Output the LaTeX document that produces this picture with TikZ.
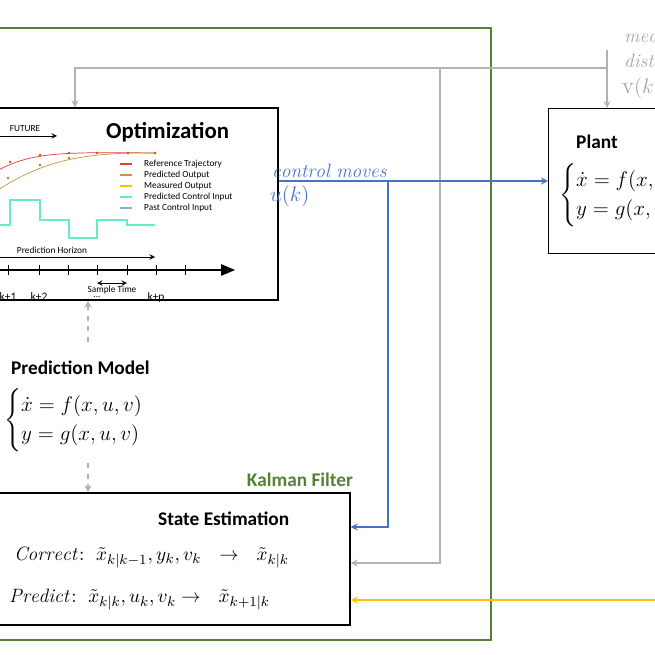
\documentclass[tikz,border=0pt]{standalone}
\usepackage{amsmath}
\usepackage{fontspec}
\newfontfamily\calib{Carlito}
\usetikzlibrary{positioning, arrows}
\definecolor{kalgreen}{RGB}{84,130,53}
\definecolor{ctrlblue}{RGB}{68,114,196}
\definecolor{measgold}{RGB}{255,192,0}
\definecolor{sigcyan}{RGB}{100,235,200}
\definecolor{refred}{RGB}{230,60,60}
\definecolor{predbrown}{RGB}{200,150,60}
\tikzstyle{block} = [rectangle, draw=black, thick, fill=white]
\tikzstyle{title} = [font=\calib\bfseries\fontsize{11}{12}\selectfont, anchor=west]
\tikzstyle{eqn} = [font=\fontsize{12}{14}\selectfont, anchor=west]
\tikzstyle{arrow} = [->,>=stealth]
\tikzstyle{feed} = [arrow, gray!60, thick]
\tikzstyle{tiny} = [font=\calib\fontsize{5.3}{6}\selectfont]

\begin{document}
\begin{tikzpicture}[x=0.02cm, y=-0.02cm]
    \useasboundingbox (0,0) rectangle (655,655);
    \draw[kalgreen, thick] (-5,28) rectangle (491,640);

    % blocks
    \node (opt) [block, minimum width=5.66cm, minimum height=3.84cm] at (136.5,204) {};
    \node (plant) [block, minimum width=3cm, minimum height=2.9cm, anchor=north west] at (548,108) {};
    \node (est) [block, minimum width=7.1cm, minimum height=2.64cm] at (172.5,559) {};

    % optimization plot
    \node[title, font=\calib\bfseries\fontsize{13}{14}\selectfont] at (100,132) {Optimization};
    \node[tiny] (fut) at (25,129) {FUTURE};
    \draw[arrow] (-5,136) -- (57,136);
    \draw[refred] (-5,172) .. controls (30,152) and (60,152) .. (155,153);
    \foreach \x/\y in {10/162,40/155,69/153,97/153,128/153,155/153}
        \fill[refred] (\x,\y) circle (1.4);
    \draw[predbrown] (-5,192) .. controls (40,162) and (80,152) .. (155,153);
    \foreach \x/\y in {8/178,40/165,69/158,97/153,128/153,155/153}
        \fill[predbrown!80!black] (\x,\y) circle (1.4);
    \draw[sigcyan, thick] (-5,225) -- (10,225) -- (10,200) -- (40,200) -- (40,220) -- (69,220)
        -- (69,238) -- (97,238) -- (97,220) -- (127,220) -- (127,225) -- (155,225);
    \foreach \c/\t [count=\i] in {refred/Reference Trajectory, predbrown/Predicted Output,
        measgold/Measured Output, sigcyan/Predicted Control Input, ctrlblue!60/Past Control Input}{
        \draw[\c, thick] (120,153+11*\i) -- (132,153+11*\i);
        \node[tiny, anchor=west] at (138,153+11*\i) {\t};
    }
    \node[tiny] at (52,250) {Prediction Horizon};
    \draw[arrow] (-5,257) -- (155,257);
    \draw[-triangle 45, thick] (-5,270) -- (235,270);
    \foreach \x in {8,39,68,97,127,156,185}
        \draw (\x,265) -- (\x,275);
    \draw[<->, >=stealth] (97,283) -- (127,283);
    \node[tiny] at (112,290) {Sample Time};
    \node[tiny, font=\calib\fontsize{6.5}{7}\selectfont] at (8,297) {k+1};
    \node[tiny, font=\calib\fontsize{6.5}{7}\selectfont] at (39,297) {k+2};
    \node[tiny] at (97,297) {...};
    \node[tiny, font=\calib\fontsize{6.5}{7}\selectfont] at (156,297) {k+p};

    % plant
    \node[title] at (570,142) {Plant};
    \node[eqn] at (553,195) {$\begin{cases}\dot{x}=f(x,u,v)\\ y=g(x,u,v)\end{cases}$};

    % prediction model
    \node (model) [title] at (5,368) {Prediction Model};
    \node[eqn] at (-2,420) {$\begin{cases}\dot{x}=f(x,u,v)\\ y=g(x,u,v)\end{cases}$};
    \coordinate (mtop) at (88,342);
    \coordinate (mbot) at (88,463);
    \draw[feed, dashed] (mtop) -- (opt.south -| mtop);
    \draw[feed, dashed] (mbot) -- (est.north -| mbot);

    % state estimation
    \node[font=\calib\bfseries\fontsize{11}{12}\selectfont, kalgreen] at (300,480) {Kalman Filter};
    \node[title] at (152,519) {State Estimation};
    \node[eqn, font=\fontsize{11}{13}\selectfont] at (8,557)
        {$\mathit{Correct}\!:\ \tilde{x}_{k|k-1}, y_k, v_k\ \ \rightarrow\ \ \tilde{x}_{k|k}$};
    \node[eqn, font=\fontsize{11}{13}\selectfont] at (3,600)
        {$\mathit{Predict}\!:\ \tilde{x}_{k|k}, u_k, v_k \rightarrow\ \ \tilde{x}_{k+1|k}$};

    % measured disturbance
    \node[gray!70, font=\fontsize{11}{12}\selectfont\itshape, anchor=west] at (618,38) {$\mathit{mea}$};
    \node[gray!70, font=\fontsize{11}{12}\selectfont\itshape, anchor=west] at (618,61) {$\mathit{dist}$};
    \node[gray!70, font=\fontsize{13}{14}\selectfont, anchor=west] at (616,88) {$\mathrm{v}(k$};
    \coordinate (dist) at (607,50);
    \coordinate (tjoin) at (607,68);
    \coordinate (ejoin) at (440,68);
    \draw[feed] (dist) -- (plant.north -| dist);
    \draw[feed] (tjoin) -| (opt.north -| 75,0);
    \draw[feed] (ejoin) |- (est.east |- 0,563);

    % control moves
    \node[ctrlblue, font=\fontsize{11}{12}\selectfont, anchor=west] at (266,171) {$\mathit{control\ moves}$};
    \node[ctrlblue, font=\fontsize{13}{14}\selectfont, anchor=west] at (264,196) {$u(k)$};
    \draw[arrow, ctrlblue, thick] (opt.east |- 0,181) -- (plant.west |- 0,181);
    \coordinate (ujoin) at (388,181);
    \draw[arrow, ctrlblue, thick] (ujoin) |- (est.east |- 0,527);

    % measured output
    \coordinate (yout) at (660,600);
    \draw[arrow, measgold, thick] (yout) -- (est.east |- yout);
\end{tikzpicture}
\end{document}
